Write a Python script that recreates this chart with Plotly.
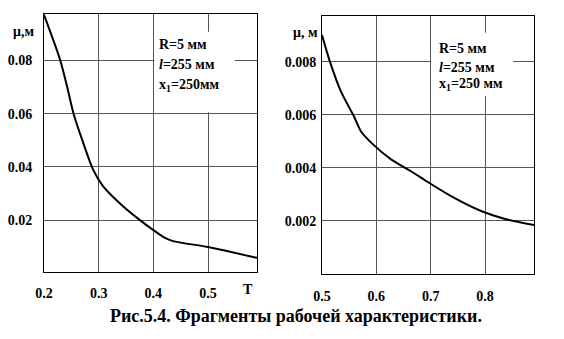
import plotly.graph_objects as go

# Left panel data (T, mu in m)
t_left = [0.2, 0.2293, 0.2421, 0.2549, 0.2713, 0.2896, 0.3079, 0.3445, 0.3756, 0.3975, 0.4213, 0.436, 0.5, 0.5896]
mu_left = [0.0972, 0.0804, 0.0703, 0.0594, 0.0493, 0.0391, 0.0328, 0.02525, 0.020, 0.0166, 0.0133, 0.0121, 0.0099, 0.0058]
# Right panel data
t_right = [0.5, 0.5147, 0.535, 0.5589, 0.5718, 0.5939, 0.627, 0.6638, 0.6951, 0.7374, 0.7927, 0.8368, 0.89]
mu_right = [0.00901, 0.0080, 0.006875, 0.005938, 0.005375, 0.004888, 0.004325, 0.003875, 0.003463, 0.002938, 0.002375, 0.002075, 0.00185]

xt_left = [0.2, 0.3, 0.4, 0.5]
yt_left = [0.02, 0.04, 0.06, 0.08]
xt_right = [0.5, 0.6, 0.7, 0.8]
yt_right = [0.002, 0.004, 0.006, 0.008]

FONT = "Liberation Serif"
tf = dict(family=FONT, size=14, color="black")

def b(s):
    return f"<b>{s}</b>"

fig = go.Figure()
fig.add_trace(go.Scatter(x=t_left, y=mu_left, mode="lines", line=dict(color="black", width=2, shape="spline", smoothing=0.8),
                         xaxis="x", yaxis="y", showlegend=False))
fig.add_trace(go.Scatter(x=t_right, y=mu_right, mode="lines", line=dict(color="black", width=2, shape="spline", smoothing=0.8),
                         xaxis="x2", yaxis="y2", showlegend=False))

W, H = 564, 339
def dx(a, c):
    return [a / W, c / W]
def dy(top, bot):
    return [(H - bot) / H, (H - top) / H]

axcommon = dict(showline=True, linecolor="black", linewidth=1, mirror=True, showgrid=True,
                gridcolor="#555555", gridwidth=1, zeroline=False, ticks="", tickfont=tf, automargin=False)

fig.update_layout(
    width=W, height=H, margin=dict(l=0, r=0, t=0, b=0),
    font=dict(family=FONT, color="black"),
    paper_bgcolor="white", plot_bgcolor="white",
    xaxis=dict(domain=dx(44, 257), range=[0.2, 0.5896], tickvals=xt_left, ticktext=[b(f"{v:.1f}") for v in xt_left],
               ticklabelstandoff=8, anchor="y", **axcommon),
    yaxis=dict(domain=dy(14, 272), range=[0.0005, 0.0975], tickvals=yt_left, ticktext=[b(f"{v:.2f}") for v in yt_left],
               ticklabelstandoff=8, anchor="x", **axcommon),
    xaxis2=dict(domain=dx(322, 534), range=[0.5, 0.89], tickvals=xt_right, ticktext=[b(f"{v:.1f}") for v in xt_right],
                ticklabelstandoff=9, anchor="y2", **axcommon),
    yaxis2=dict(domain=dy(16, 274), range=[0.0, 0.00973], tickvals=yt_right, ticktext=[b(f"{v:.3f}") for v in yt_right],
                ticklabelstandoff=2, anchor="x2", **axcommon),
)

# white boxes behind the parameter text
fig.add_shape(type="rect", xref="x", yref="y", x0=0.402, x1=0.549, y0=0.0606, y1=0.0908,
              fillcolor="white", line=dict(width=0), layer="above")
fig.add_shape(type="rect", xref="x2", yref="y2", x0=0.701, x1=0.8515, y0=0.0067, y1=0.0091,
              fillcolor="white", line=dict(width=0), layer="above")

bf = dict(family=FONT, size=14, color="black")
params = ["R=5 мм", "<i>l</i>=255 мм"]
for txt, yy in zip(params + ["x<sub>1</sub>=250мм"], [0.086, 0.0785, 0.0707]):
    fig.add_annotation(x=0.4067, y=yy, xref="x", yref="y", text=b(txt), showarrow=False,
                       xanchor="left", yanchor="middle", font=bf)
for txt, yy in zip(params + ["x<sub>1</sub>=250 мм"], [0.00849, 0.00777, 0.00716]):
    fig.add_annotation(x=0.7117, y=yy, xref="x2", yref="y2", text=b(txt), showarrow=False,
                       xanchor="left", yanchor="middle", font=bf)

# axis name labels
fig.add_annotation(x=0, y=0.0908, xref="x domain", yref="y", text=b("μ,м"), showarrow=False,
                   xanchor="right", yanchor="middle", xshift=-8, font=bf)
fig.add_annotation(x=0.573, y=0, xref="x", yref="y domain", text=b("T"), showarrow=False,
                   xanchor="center", yanchor="top", yshift=-8, font=bf)
fig.add_annotation(x=0, y=0.0091, xref="x2 domain", yref="y2", text=b("μ, м"), showarrow=False,
                   xanchor="right", yanchor="middle", xshift=-2, font=bf)

fig.add_annotation(x=296 / W, y=(H - 316) / H, xref="paper", yref="paper",
                   text=b("Рис.5.4. Фрагменты рабочей характеристики."), showarrow=False,
                   xanchor="center", yanchor="middle", font=dict(family=FONT, size=18, color="black"))

fig.write_html("out.html")
